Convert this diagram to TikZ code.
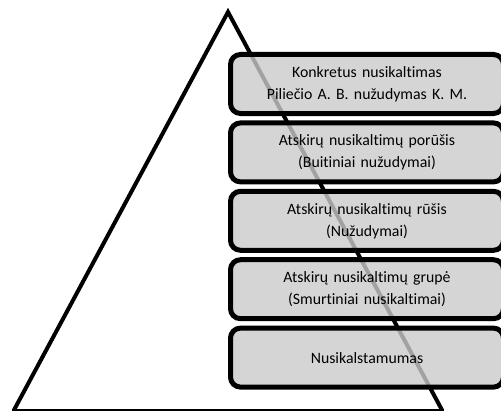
\documentclass[tikz,border=0pt]{standalone}
\usepackage{fontspec}
\setmainfont{Carlito}[RawFeature=-liga]
\usepackage{tikz}
\usetikzlibrary{shapes,arrows,positioning}

\definecolor{boxgray}{RGB}{203,203,203}

\begin{document}
\begin{tikzpicture}[x=1pt, y=-1pt, node distance=68.4pt]
	% Define block styles
	\tikzstyle{level} = [rectangle, draw, line width=5pt, fill=boxgray, fill opacity=0.8, text opacity=1, text width=260pt, align=center, rounded corners=10pt, minimum width=273pt, minimum height=59pt, font=\fontsize{15.8}{22}\selectfont]
	\tikzstyle{side} = [draw, line width=4pt]
	\tikzstyle{base} = [draw, line width=1.5pt]

	\useasboundingbox (0,0) rectangle (501,412);
	\clip (0,0) rectangle (501,412);

	% Pyramid
	\coordinate (apex) at (228,12);
	\coordinate (left corner) at (14,410);
	\coordinate (right corner) at (442,410);
	\path [side] (left corner) -- (apex) -- (right corner);
	\path [base] (12,410) -- (444,410);

	% Levels
	\node [level] (concrete crime) at (367,84) {Konkretus nusikaltimas\\Piliečio A. B. nužudymas K. M.};
	\node [level, below of=concrete crime] (subtype) {Atskirų nusikaltimų porūšis\\(Buitiniai nužudymai)};
	\node [level, below of=subtype] (type) {Atskirų nusikaltimų rūšis\\(Nužudymai)};
	\node [level, below of=type] (group) {Atskirų nusikaltimų grupė\\(Smurtiniai nusikaltimai)};
	\node [level, below of=group] (criminality) {Nusikalstamumas};
\end{tikzpicture}
\end{document}
